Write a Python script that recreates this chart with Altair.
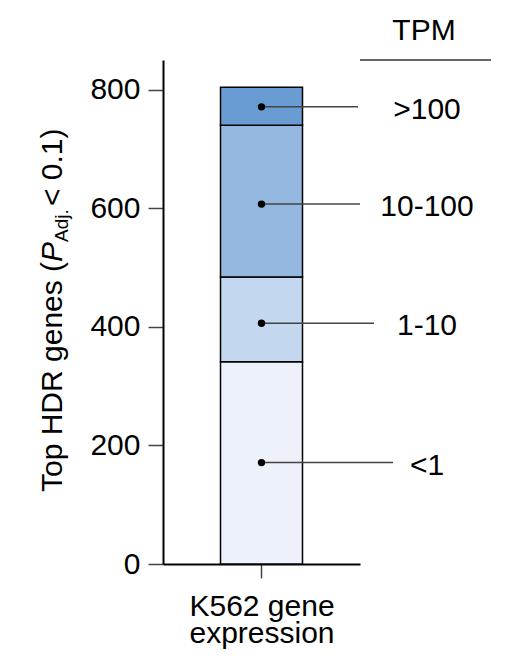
import altair as alt
import pandas as pd

# ---- data ----
categories = ["<1", "1-10", "10-100", ">100"]
counts = [341, 143, 256, 64]
label_values = [171, 406, 607, 771]
sample = "K562 gene expression"
y_ticks = [0, 200, 400, 600, 800]
x_title = ["K562 gene", "expression"]
legend_title = "TPM"
y_title_parts = ["Top HDR genes (", "P", "Adj.", " < 0.1)"]

# ---- styles / layout ----
colors = ["#edf2fa", "#c3d7ee", "#94b8e0", "#699cd3"]
leader_end_px = [230, 211, 197, 195]
FONT = "Liberation Sans"
W, H = 197, 504

df = pd.DataFrame({"sample": sample, "tpm": categories, "count": counts,
                   "rank": list(range(len(categories)))})
ann = pd.DataFrame({"sample": sample, "tpm": categories, "ypos": label_values})

y_scale = alt.Scale(domain=[0, 850], nice=False, zero=True)

x_axis = alt.Axis(labels=False, ticks=True, tickSize=14, tickColor="#444", tickWidth=1.5,
                  domainColor="black", domainWidth=2, title=x_title, titleFont=FONT,
                  titleFontSize=30, titleFontWeight="normal", titleColor="black",
                  titlePadding=13, titleLineHeight=27)
y_axis = alt.Axis(values=y_ticks, tickSize=15, tickColor="#444", tickWidth=1.5,
                  domainColor="black", domainWidth=2, labelFont=FONT, labelFontSize=30,
                  labelColor="black", labelPadding=8, grid=False, title=None)

bars = alt.Chart(df).mark_bar(size=82, stroke="black", strokeWidth=1.5).encode(
    x=alt.X("sample:N", axis=x_axis),
    y=alt.Y("count:Q", stack="zero", scale=y_scale, axis=y_axis),
    color=alt.Color("tpm:N", scale=alt.Scale(domain=categories, range=colors), legend=None),
    order=alt.Order("rank:Q"),
)

layers = [bars]
for c, e in zip(categories, leader_end_px):
    layers.append(
        alt.Chart(ann).transform_filter(alt.datum.tpm == c)
        .mark_rule(color="#444", strokeWidth=1.5)
        .encode(x=alt.X("sample:N"), x2=alt.value(e), y=alt.Y("ypos:Q", scale=y_scale))
    )

dots = alt.Chart(ann).mark_circle(size=55, color="black", opacity=1).encode(
    x=alt.X("sample:N"), y=alt.Y("ypos:Q", scale=y_scale))
labels = alt.Chart(ann).mark_text(font=FONT, fontSize=30, align="center",
                                  baseline="alphabetic", dy=12, color="black").encode(
    x=alt.value(264), y=alt.Y("ypos:Q", scale=y_scale), text="tpm:N")
layers += [dots, labels]

hdr = alt.Chart(pd.DataFrame({"t": [legend_title]})).mark_text(
    font=FONT, fontSize=30, align="center", baseline="alphabetic", color="black").encode(
    x=alt.value(261), y=alt.value(-20), text="t:N")
hdr_rule = alt.Chart(pd.DataFrame({"t": [legend_title]})).mark_rule(
    color="#333", strokeWidth=1.5).encode(x=alt.value(197), x2=alt.value(328), y=alt.value(0))
layers += [hdr, hdr_rule]

# y-axis title built from pieces (italic P with subscript)
part_specs = [
    (y_title_parts[0], 432, -101, 30, "normal"),
    (y_title_parts[1], 202, -101, 30, "italic"),
    (y_title_parts[2], 182, -95, 19, "normal"),
    (y_title_parts[3], 146, -101, 30, "normal"),
]
for txt, ypx, xpx, fs, style in part_specs:
    layers.append(
        alt.Chart(pd.DataFrame({"t": [txt]})).mark_text(
            font=FONT, fontSize=fs, fontStyle=style, angle=270, align="left",
            baseline="alphabetic", color="black").encode(
            x=alt.value(xpx), y=alt.value(ypx), text="t:N")
    )

chart = alt.layer(*layers).properties(
    width=W, height=H,
    autosize=alt.AutoSizeParams(type="none"),
    padding={"left": 155, "top": 52, "right": 140, "bottom": 96},
).configure_view(stroke=None)

chart.save("out.html", embed_options={"renderer": "svg", "actions": False})
